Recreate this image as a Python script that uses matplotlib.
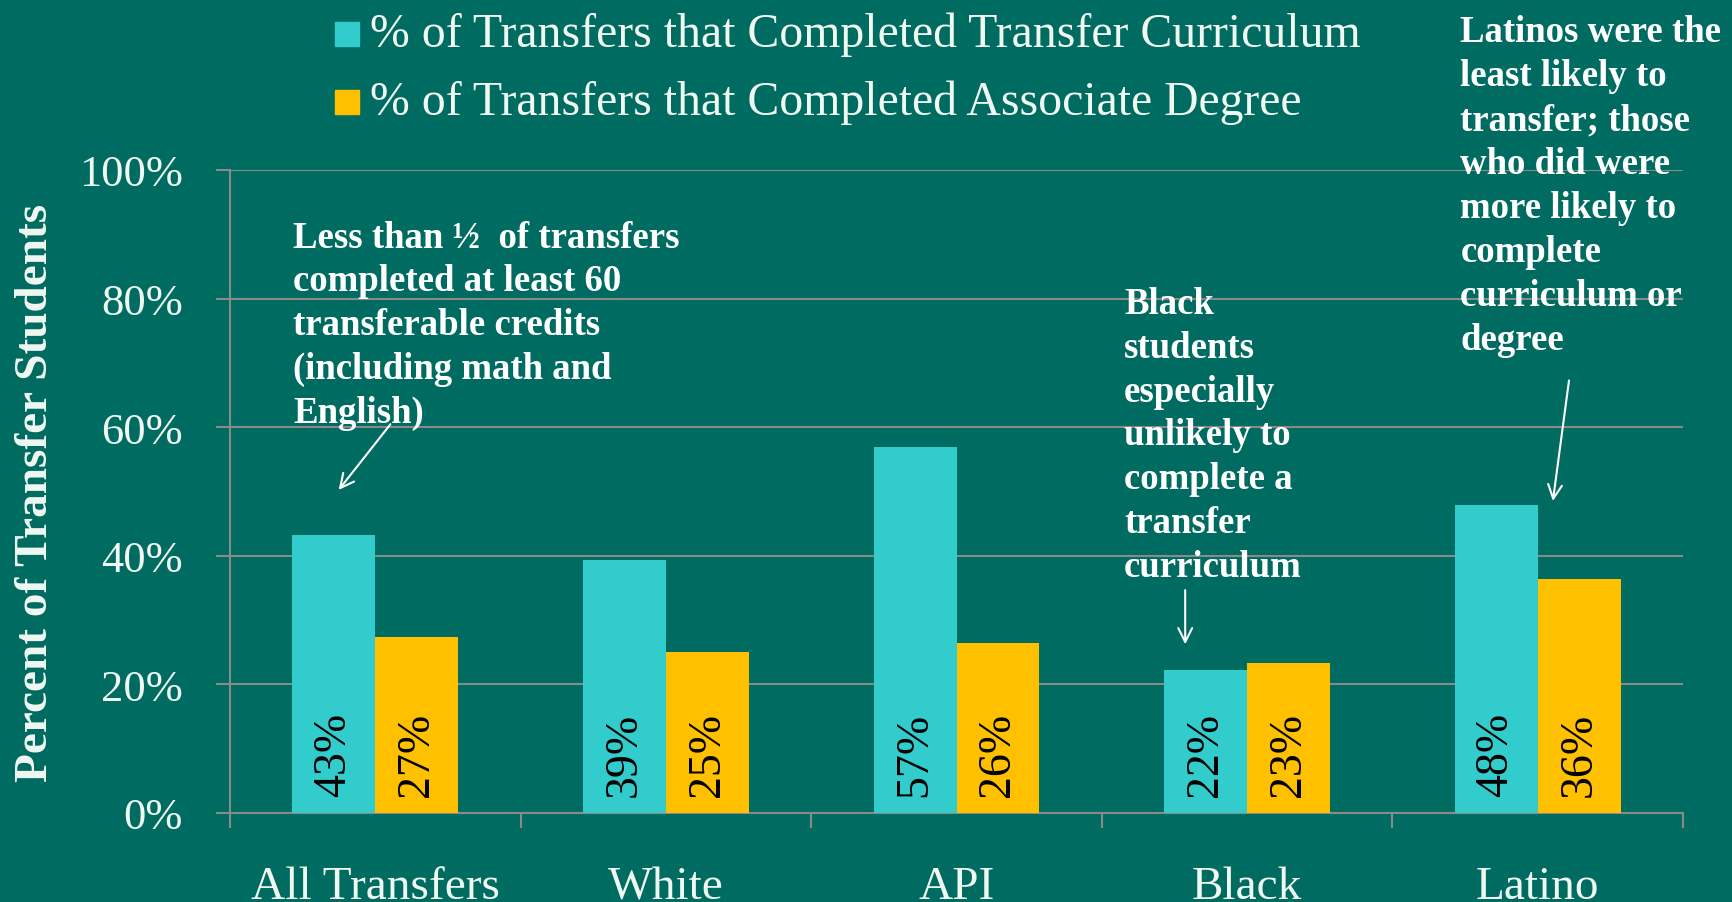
import matplotlib
matplotlib.use("Agg")
import matplotlib.pyplot as plt
from matplotlib.patches import Rectangle
import numpy as np

categories = ["All Transfers", "White", "API", "Black", "Latino"]
curriculum = [43.3, 39.4, 56.9, 22.3, 47.9]
associate = [27.4, 25.1, 26.4, 23.4, 36.4]
series_names = ["% of Transfers that Completed Transfer Curriculum",
                "% of Transfers that Completed Associate Degree"]
yticks = [0, 20, 40, 60, 80, 100]
ytick_labels = ["0%", "20%", "40%", "60%", "80%", "100%"]

BG = "#006B60"
CYAN = "#33CCCC"
GOLD = "#FFC000"
GRID = "#8A8A8A"
TXT = "#F0F8F2"
SERIF = ["Liberation Serif", "DejaVu Serif"]

fig = plt.figure(figsize=(17.32, 9.03), dpi=100, facecolor=BG)
ax = fig.add_axes([230/1732, 89/903, (1683-230)/1732, (814-171)/903])
ax.set_facecolor(BG)

x = np.arange(len(categories))
w = 0.285
b1 = ax.bar(x - w/2, curriculum, w, color=CYAN, zorder=3)
b2 = ax.bar(x + w/2, associate, w, color=GOLD, zorder=3)

for bars, vals in ((b1, curriculum), (b2, associate)):
    for r, v in zip(bars, vals):
        ax.text(r.get_x() + r.get_width()/2, 2.6, f"{round(v)}%", rotation=90,
                ha="center", va="bottom", fontsize=33, color="black",
                family=SERIF, zorder=4)

ax.set_xlim(-0.5, len(categories) - 0.5)
ax.set_ylim(0, 100)
ax.set_yticks(yticks)
ax.set_yticklabels(ytick_labels, family=SERIF, fontsize=32, color=TXT)
ax.tick_params(axis="y", length=10, width=1.5, color=GRID, pad=24)
ax.set_xticks(x)
ax.set_xticklabels(categories, family=SERIF, fontsize=34, color=TXT)
ax.set_xticks(np.arange(-0.5, len(categories)), minor=True)
ax.tick_params(axis="x", which="major", length=0, pad=38)
ax.tick_params(axis="x", which="minor", length=11, width=1.5, color=GRID)
ax.yaxis.grid(True, color=GRID, linewidth=1.5, zorder=0)
for s in ("top", "right"):
    ax.spines[s].set_visible(False)
for s in ("left", "bottom"):
    ax.spines[s].set_color(GRID)
    ax.spines[s].set_linewidth(1.5)
ax.set_ylabel("Percent of Transfer Students", family=SERIF, fontsize=34,
              fontweight="bold", color=TXT)
ax.yaxis.set_label_coords(-0.119, 0.5)

# legend (manual)
for i, (name, col) in enumerate(zip(series_names, (CYAN, GOLD))):
    yc = [35, 103][i]
    fig.patches.append(Rectangle((335/1732, (903 - yc - 12)/903), 24/1732, 24/903,
                                 transform=fig.transFigure, color=col))
    fig.text(370/1732, (903 - yc)/903, name, family=SERIF, fontsize=34.4,
             color=TXT, va="center", ha="left")

ann_kw = dict(family=SERIF, fontsize=26.5, fontweight="bold", color="white",
              ha="left", va="center", linespacing=1.33, zorder=5)
ax.text(-0.283, 75.9, "Less than ½  of transfers\ncompleted at least 60\ntransferable credits\n(including math and\nEnglish)", **ann_kw)
ax.text(2.577, 58.8, "Black\nstudents\nespecially\nunlikely to\ncomplete a\ntransfer\ncurriculum", **ann_kw)
ax.text(3.734, 97.6, "Latinos were the\nleast likely to\ntransfer; those\nwho did were\nmore likely to\ncomplete\ncurriculum or\ndegree", **ann_kw)

arrow = dict(arrowstyle="->", color="white", lw=1.5, mutation_scale=25)
ax.annotate("", xy=(-0.132, 49.9), xytext=(0.058, 60.8), arrowprops=arrow, zorder=5)
ax.annotate("", xy=(2.787, 25.8), xytext=(2.787, 35.1), arrowprops=arrow, zorder=5)
ax.annotate("", xy=(4.051, 48.1), xytext=(4.109, 67.7), arrowprops=arrow, zorder=5)

fig.savefig("out.png", dpi=100, facecolor=BG)
